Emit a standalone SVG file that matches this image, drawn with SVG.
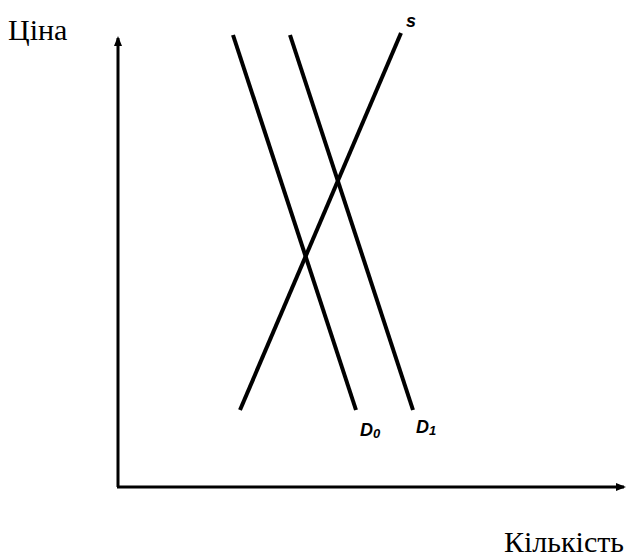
<svg xmlns="http://www.w3.org/2000/svg" width="629" height="558" viewBox="0 0 629 558">
<style>
.ax{stroke:#000;stroke-width:3;fill:none}
.ln{stroke:#000;stroke-width:4;fill:none;stroke-linecap:butt}
.lab{font-family:"Liberation Serif",serif;font-size:30px;fill:#000}
.cl{font-family:"Liberation Sans",sans-serif;font-size:18px;font-weight:bold;font-style:italic;fill:#000}
</style>
<defs>
<marker id="ah" markerWidth="10" markerHeight="10" refX="8" refY="5" orient="auto" markerUnits="userSpaceOnUse">
<path d="M0,1 L10,5 L0,9 Z" fill="#000"/>
</marker>
</defs>
<rect width="629" height="558" fill="#fff"/>
<g id="connectors">
<line class="ax" x1="118" y1="487" x2="118" y2="38" marker-end="url(#ah)"/>
<line class="ax" x1="117" y1="487" x2="624" y2="487" marker-end="url(#ah)"/>
<line id="D0" class="ln" x1="233" y1="35" x2="356" y2="410"/>
<line id="D1" class="ln" x1="290" y1="35" x2="413" y2="410"/>
<line id="S" class="ln" x1="240" y1="410" x2="401" y2="33"/>
</g>
<g id="labels">
<text class="lab" x="8" y="40">Ціна</text>
<text class="lab" x="624" y="552" text-anchor="end">Кількість</text>
<text class="cl" x="406" y="27">s</text>
<text class="cl" x="360" y="436">D<tspan font-size="13" dy="2">0</tspan></text>
<text class="cl" x="416" y="433">D<tspan font-size="13" dy="2">1</tspan></text>
</g>
</svg>
